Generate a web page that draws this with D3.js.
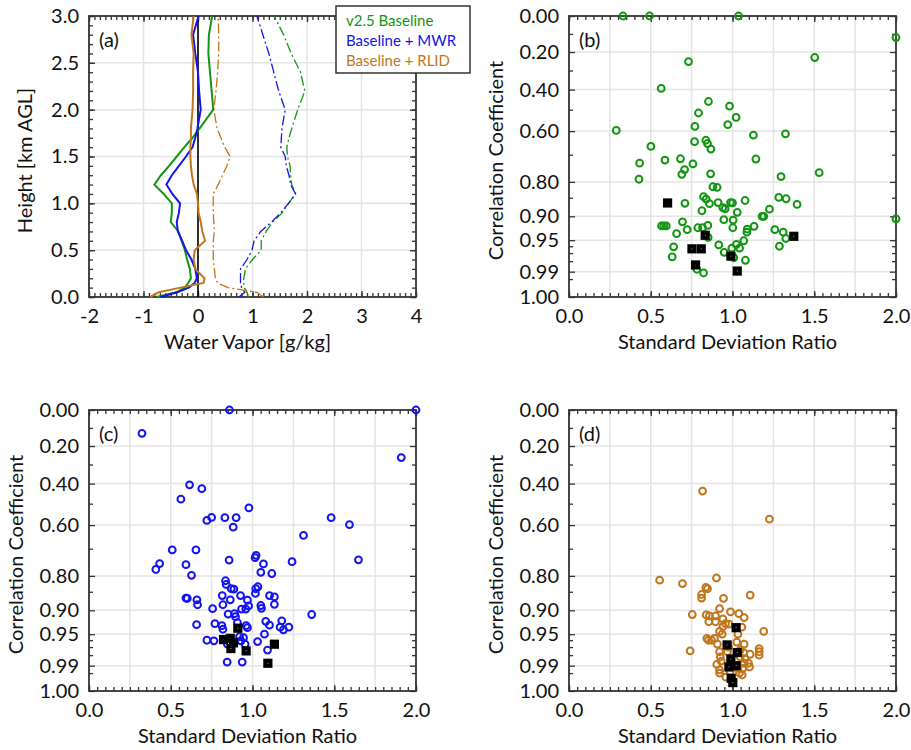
<!DOCTYPE html>
<html>
<head>
<meta charset="utf-8">
<script src="https://cdn.jsdelivr.net/npm/d3@7"></script>
<style>
  body { margin: 0; background: #fff; }
  text { font-family: Lato, "Noto Sans", sans-serif; fill: #111; }
</style>
</head>
<body>
<div id="content"></div>
<script>
// ---- panel (a): water vapour profiles, bias (solid) and std dev (dash-dot)
const heights  = [0, 0.05, 0.1, 0.15, 0.2, 0.3, 0.4, 0.5, 0.6, 0.7, 0.8, 0.9, 1.0, 1.1, 1.2, 1.3, 1.4, 1.5, 1.6, 1.7, 1.8, 2.0, 2.2, 2.4, 2.6, 2.8, 3.0];
const biasBase = [-0.76, -0.40, -0.24, -0.18, -0.13, -0.15, -0.20, -0.24, -0.30, -0.36, -0.50, -0.48, -0.48, -0.63, -0.80, -0.68, -0.53, -0.39, -0.25, -0.10, 0.03, 0.28, 0.25, 0.22, 0.19, 0.20, 0.26];
const biasMWR  = [-0.69, -0.38, -0.17, -0.06, -0.02, -0.05, -0.12, -0.22, -0.29, -0.37, -0.39, -0.35, -0.33, -0.47, -0.58, -0.48, -0.35, -0.22, -0.10, -0.05, -0.01, 0.05, 0.02, 0.00, -0.05, -0.09, 0.01];
const biasRLID = [-0.88, -0.72, -0.32, 0.10, 0.12, -0.05, -0.08, -0.06, 0.13, 0.08, 0.05, 0.01, 0.00, -0.02, -0.08, -0.11, -0.13, -0.14, -0.14, -0.13, -0.13, -0.10, -0.09, -0.09, -0.08, -0.12, -0.08];
const sdBase   = [0.92, 0.90, 0.85, 0.84, 0.84, 0.87, 1.00, 1.16, 1.16, 1.25, 1.37, 1.55, 1.66, 1.79, 1.72, 1.70, 1.69, 1.64, 1.63, 1.67, 1.72, 1.83, 1.96, 1.88, 1.71, 1.57, 1.40];
const sdMWR    = [0.75, 0.86, 0.80, 0.78, 0.78, 0.78, 0.90, 0.99, 1.03, 1.15, 1.35, 1.52, 1.66, 1.79, 1.70, 1.67, 1.62, 1.60, 1.52, 1.53, 1.54, 1.60, 1.48, 1.39, 1.30, 1.19, 1.08];
const sdRLID   = [1.20, 1.08, 0.55, 0.36, 0.32, 0.30, 0.28, 0.28, 0.28, 0.30, 0.29, 0.28, 0.28, 0.28, 0.37, 0.45, 0.53, 0.59, 0.49, 0.42, 0.35, 0.29, 0.33, 0.36, 0.38, 0.38, 0.37];

const legendNames = ["v2.5 Baseline", "Baseline + MWR", "Baseline + RLID"];
const colors = ["#129612", "#1414f0", "#c0761c"];

// ---- panels (b)-(d): standard deviation ratio vs correlation coefficient
const stdB = [0.33, 0.493, 1.037, 2.0, 1.503, 0.731, 0.564, 0.853, 0.982, 0.792, 1.022, 0.971, 0.770, 0.289, 1.128, 1.324, 0.768, 0.837, 0.847, 0.868, 0.501, 0.682, 0.587, 1.143, 0.432, 0.758, 0.707, 0.690, 0.866, 1.530, 0.428, 1.297, 0.880, 0.906, 0.823, 0.839, 0.859, 0.709, 0.912, 0.988, 1.0, 1.077, 1.283, 1.328, 1.395, 1.226, 0.941, 0.955, 0.813, 1.029, 1.181, 1.191, 0.947, 1.004, 0.566, 0.58, 0.595, 0.694, 0.723, 0.658, 0.788, 0.817, 0.849, 1.002, 1.090, 1.088, 1.132, 1.259, 1.310, 1.326, 1.069, 0.851, 0.916, 1.024, 0.996, 1.043, 0.640, 1.287, 0.949, 0.631, 1.008, 1.079, 0.782, 0.823, 2.0];
const corrB = [0, 0, 0, 0.120, 0.230, 0.252, 0.394, 0.460, 0.483, 0.516, 0.537, 0.571, 0.579, 0.597, 0.618, 0.612, 0.646, 0.640, 0.654, 0.677, 0.666, 0.716, 0.721, 0.717, 0.733, 0.736, 0.757, 0.774, 0.772, 0.768, 0.791, 0.782, 0.816, 0.818, 0.847, 0.854, 0.867, 0.866, 0.864, 0.864, 0.865, 0.858, 0.849, 0.853, 0.869, 0.882, 0.878, 0.881, 0.886, 0.890, 0.900, 0.900, 0.908, 0.909, 0.922, 0.922, 0.922, 0.913, 0.930, 0.938, 0.926, 0.926, 0.921, 0.926, 0.929, 0.935, 0.923, 0.930, 0.935, 0.947, 0.951, 0.945, 0.958, 0.957, 0.963, 0.963, 0.961, 0.960, 0.969, 0.975, 0.976, 0.979, 0.988, 0.991, 0.906];
const stdBoxB  = [0.603, 0.833, 0.752, 0.809, 0.990, 0.774, 1.029, 1.375];
const corrBoxB = [0.865, 0.941, 0.964, 0.964, 0.974, 0.984, 0.9895, 0.943];

const stdC = [0.859, 2.0, 0.324, 1.910, 0.615, 0.690, 0.562, 0.978, 0.750, 0.721, 0.831, 0.900, 0.882, 1.481, 1.593, 1.312, 0.509, 0.654, 1.022, 1.016, 0.857, 1.648, 1.242, 0.432, 0.593, 1.067, 0.409, 1.051, 1.118, 0.627, 0.835, 0.839, 0.870, 0.886, 1.033, 1.020, 1.018, 0.593, 0.601, 0.660, 0.664, 0.815, 0.819, 0.864, 0.927, 0.969, 0.976, 0.959, 0.933, 0.756, 1.051, 1.055, 1.104, 1.134, 1.134, 0.851, 0.890, 0.896, 0.908, 1.362, 0.658, 0.770, 0.813, 0.819, 0.961, 0.969, 1.081, 1.104, 1.179, 1.169, 1.189, 1.222, 1.073, 0.721, 0.764, 0.921, 0.945, 0.929, 1.031, 0.955, 0.847, 1.092, 0.845, 0.937];
const corrC = [0, 0, 0.130, 0.263, 0.406, 0.426, 0.478, 0.520, 0.565, 0.579, 0.566, 0.566, 0.609, 0.566, 0.598, 0.645, 0.705, 0.705, 0.726, 0.735, 0.744, 0.743, 0.750, 0.757, 0.761, 0.758, 0.778, 0.788, 0.792, 0.798, 0.816, 0.828, 0.841, 0.842, 0.835, 0.841, 0.855, 0.868, 0.869, 0.873, 0.886, 0.861, 0.886, 0.873, 0.861, 0.874, 0.889, 0.897, 0.897, 0.896, 0.888, 0.895, 0.861, 0.865, 0.885, 0.909, 0.908, 0.915, 0.928, 0.910, 0.932, 0.930, 0.934, 0.941, 0.934, 0.938, 0.925, 0.933, 0.924, 0.937, 0.942, 0.937, 0.950, 0.960, 0.961, 0.954, 0.956, 0.961, 0.962, 0.966, 0.966, 0.974, 0.987, 0.987];
const stdBoxC  = [0.910, 0.823, 0.864, 0.884, 0.868, 0.961, 1.134, 1.094];
const corrBoxC = [0.939, 0.959, 0.957, 0.964, 0.972, 0.975, 0.966, 0.988];

const stdD = [0.817, 1.226, 0.554, 0.694, 0.902, 0.837, 0.847, 0.811, 0.811, 0.945, 1.108, 0.921, 0.988, 1.039, 1.071, 0.754, 0.839, 0.859, 0.896, 0.855, 0.896, 0.941, 0.957, 0.978, 0.941, 1.057, 0.921, 0.937, 1.033, 1.191, 0.843, 0.853, 0.890, 0.872, 0.908, 1.026, 1.071, 0.741, 0.921, 0.969, 1.069, 1.108, 1.163, 1.163, 1.163, 0.925, 0.931, 1.077, 1.098, 0.904, 1.104, 1.063, 0.921, 1.043, 1.059, 0.921, 0.959, 1.033, 1.071, 0.986, 1.047, 0.976, 1.047];
const corrD = [0.438, 0.573, 0.814, 0.825, 0.807, 0.837, 0.841, 0.858, 0.868, 0.869, 0.860, 0.896, 0.904, 0.908, 0.917, 0.910, 0.911, 0.913, 0.913, 0.926, 0.926, 0.920, 0.930, 0.931, 0.936, 0.937, 0.945, 0.950, 0.950, 0.945, 0.957, 0.960, 0.957, 0.960, 0.966, 0.963, 0.966, 0.975, 0.976, 0.976, 0.977, 0.979, 0.972, 0.976, 0.980, 0.982, 0.986, 0.984, 0.988, 0.989, 0.991, 0.992, 0.993, 0.995, 0.996, 0.995, 0.997, 0.992, 0.988, 0.994, 0.982, 0.970, 0.974];
const stdBoxD  = [1.022, 0.967, 1.029, 0.990, 1.022, 0.978, 0.992, 1.002];
const corrBoxD = [0.938, 0.967, 0.977, 0.984, 0.990, 0.991, 0.9975, 0.9989];

const corrLabels = [0, 0.2, 0.4, 0.6, 0.8, 0.9, 0.95, 0.99, 1.0];
const corrMinor  = [0.1, 0.3, 0.5, 0.7, 0.85, 0.96, 0.97, 0.98, 0.995];

// view
const W = 911, H = 750;
const pw = 327, ph = 281;
const fs = 20;
const svg = d3.select("#content").append("svg").attr("width", W).attr("height", H);

const axisCol = "#333";
const gridCol = "#e4e4e4";

// ticks on all four sides pointing inward
function sideTicks(g, x, y, xVals, yVals, len) {
  const [x0, x1] = x.range(), [y0, y1] = y.range();
  const defs = [
    [d3.axisBottom(x).tickValues(xVals), `translate(0,${y0})`],
    [d3.axisTop(x).tickValues(xVals), `translate(0,${y1})`],
    [d3.axisLeft(y).tickValues(yVals), `translate(${x0},0)`],
    [d3.axisRight(y).tickValues(yVals), `translate(${x1},0)`]
  ];
  defs.forEach(([ax, tr]) => {
    g.append("g").attr("transform", tr)
      .call(ax.tickSize(-len).tickFormat(""))
      .call(s => s.select(".domain").remove())
      .call(s => s.selectAll("line").attr("stroke", axisCol).attr("stroke-width", 1.3));
  });
}

function gridLines(g, x, y, xVals, yVals) {
  const [x0, x1] = x.range(), [y0, y1] = y.range();
  g.append("g").selectAll("line").data(xVals).join("line")
    .attr("x1", d => x(d)).attr("x2", d => x(d)).attr("y1", y0).attr("y2", y1)
    .attr("stroke", gridCol).attr("stroke-width", 1.5);
  g.append("g").selectAll("line").data(yVals).join("line")
    .attr("x1", x0).attr("x2", x1).attr("y1", d => y(d)).attr("y2", d => y(d))
    .attr("stroke", gridCol).attr("stroke-width", 1.5);
}

function frameRect(g, x, y) {
  const [x0, x1] = x.range(), [y0, y1] = y.range();
  g.append("rect").attr("x", x0).attr("y", y1).attr("width", x1 - x0).attr("height", y0 - y1)
    .attr("fill", "none").attr("stroke", axisCol).attr("stroke-width", 1.8);
}

function labels(g, x, y, xVals, yVals, xFmt, yFmt, xTitle, yTitle, tag, yTitleOff) {
  const [x0, x1] = x.range(), [y0, y1] = y.range();
  g.append("g").attr("transform", `translate(0,${y0})`)
    .call(d3.axisBottom(x).tickValues(xVals).tickSize(0).tickPadding(12).tickFormat(xFmt))
    .call(s => s.select(".domain").remove())
    .call(s => s.selectAll("text").attr("font-size", fs).attr("font-family", null));
  g.append("g").attr("transform", `translate(${x0},0)`)
    .call(d3.axisLeft(y).tickValues(yVals).tickSize(0).tickPadding(10).tickFormat(yFmt))
    .call(s => s.select(".domain").remove())
    .call(s => s.selectAll("text").attr("font-size", fs).attr("font-family", null));
  g.append("text").attr("x", (x0 + x1) / 2 - 5).attr("y", y0 + 52)
    .attr("text-anchor", "middle").attr("font-size", fs).text(xTitle);
  g.append("text")
    .attr("transform", `translate(${x0 - yTitleOff},${(y0 + y1) / 2 + 4}) rotate(-90)`)
    .attr("text-anchor", "middle").attr("font-size", fs).text(yTitle);
  g.append("text").attr("x", x0 + 10).attr("y", y1 + 31).attr("font-size", fs).text(tag);
}

// ---------------- panel (a)
{
  const g = svg.append("g");
  const x = d3.scaleLinear().domain([-2, 4]).range([89, 89 + pw]);
  const y = d3.scaleLinear().domain([0, 3]).range([297, 297 - ph]);
  gridLines(g, x, y, [-1, 0, 1, 2, 3], [0.5, 1, 1.5, 2, 2.5]);
  sideTicks(g, x, y, d3.range(-20, 41).map(d => d / 10), d3.range(0, 31).map(d => d / 10), 4);
  sideTicks(g, x, y, d3.range(-2, 5), d3.range(0, 7).map(d => d / 2), 6);
  frameRect(g, x, y);

  g.append("line").attr("x1", x(0)).attr("x2", x(0)).attr("y1", y(0)).attr("y2", y(3))
    .attr("stroke", "#000").attr("stroke-width", 1.6);

  const line = d3.line().x(d => x(d[0])).y(d => y(d[1]));
  const biases = [biasBase, biasMWR, biasRLID];
  const sds = [sdBase, sdMWR, sdRLID];
  sds.forEach((s, i) => {
    g.append("path").datum(d3.zip(s, heights)).attr("d", line)
      .attr("fill", "none").attr("stroke", colors[i]).attr("stroke-width", 1.3)
      .attr("stroke-dasharray", "10,3,2,3");
  });
  biases.forEach((s, i) => {
    g.append("path").datum(d3.zip(s, heights)).attr("d", line)
      .attr("fill", "none").attr("stroke", colors[i]).attr("stroke-width", 2);
  });

  labels(g, x, y, d3.range(-2, 5), d3.range(0, 7).map(d => d / 2), d => String(d), d3.format(".1f"),
    "Water Vapor [g/kg]", "Height [km AGL]", "(a)", 57);

  // legend
  const lg = svg.append("g");
  lg.append("rect").attr("x", 336).attr("y", 6).attr("width", 134).attr("height", 67)
    .attr("fill", "#fff").attr("stroke", axisCol).attr("stroke-width", 1.5);
  legendNames.forEach((n, i) => {
    lg.append("text").attr("x", 346).attr("y", 26 + i * 19.8).attr("font-size", 15)
      .style("fill", colors[i]).text(n);
  });
}

// ---------------- panels (b)-(d)
const toAng = r => Math.acos(Math.min(1, r)) * 180 / Math.PI;
const corrFmt = a => d3.format(".2f")(Math.cos(a * Math.PI / 180));

function scatterPanel(left, top, std, corr, stdBox, corrBox, col, tag) {
  const g = svg.append("g");
  const x = d3.scaleLinear().domain([0, 2]).range([left, left + pw]);
  const y = d3.scaleLinear().domain([0, 90]).range([top + ph, top]);   // angle = acos(corr)
  const labAng = corrLabels.map(toAng);
  gridLines(g, x, y, [0.25, 0.5, 0.75, 1, 1.25, 1.5, 1.75], labAng.slice(1, -1));
  sideTicks(g, x, y, d3.range(0, 41).map(d => d / 20), corrMinor.map(toAng), 4);
  sideTicks(g, x, y, [0, 0.5, 1, 1.5, 2], labAng, 6);
  frameRect(g, x, y);

  g.append("g").selectAll("circle").data(d3.zip(std, corr)).join("circle")
    .attr("cx", d => x(d[0])).attr("cy", d => y(toAng(d[1]))).attr("r", 3.4)
    .attr("fill", "none").attr("stroke", col).attr("stroke-width", 2);

  g.append("g").selectAll("rect").data(d3.zip(stdBox, corrBox)).join("rect")
    .attr("x", d => x(d[0]) - 2.5).attr("y", d => y(toAng(d[1])) - 2.5)
    .attr("width", 5).attr("height", 5)
    .attr("fill", "#fff").attr("stroke", "#000").attr("stroke-width", 4.2);

  labels(g, x, y, [0, 0.5, 1, 1.5, 2], labAng, d3.format(".1f"), corrFmt,
    "Standard Deviation Ratio", "Correlation Coefficient", tag, 66);
}

scatterPanel(569, 16, stdB, corrB, stdBoxB, corrBoxB, colors[0], "(b)");
scatterPanel(89, 410, stdC, corrC, stdBoxC, corrBoxC, colors[1], "(c)");
scatterPanel(569, 410, stdD, corrD, stdBoxD, corrBoxD, colors[2], "(d)");
</script>
</body>
</html>
